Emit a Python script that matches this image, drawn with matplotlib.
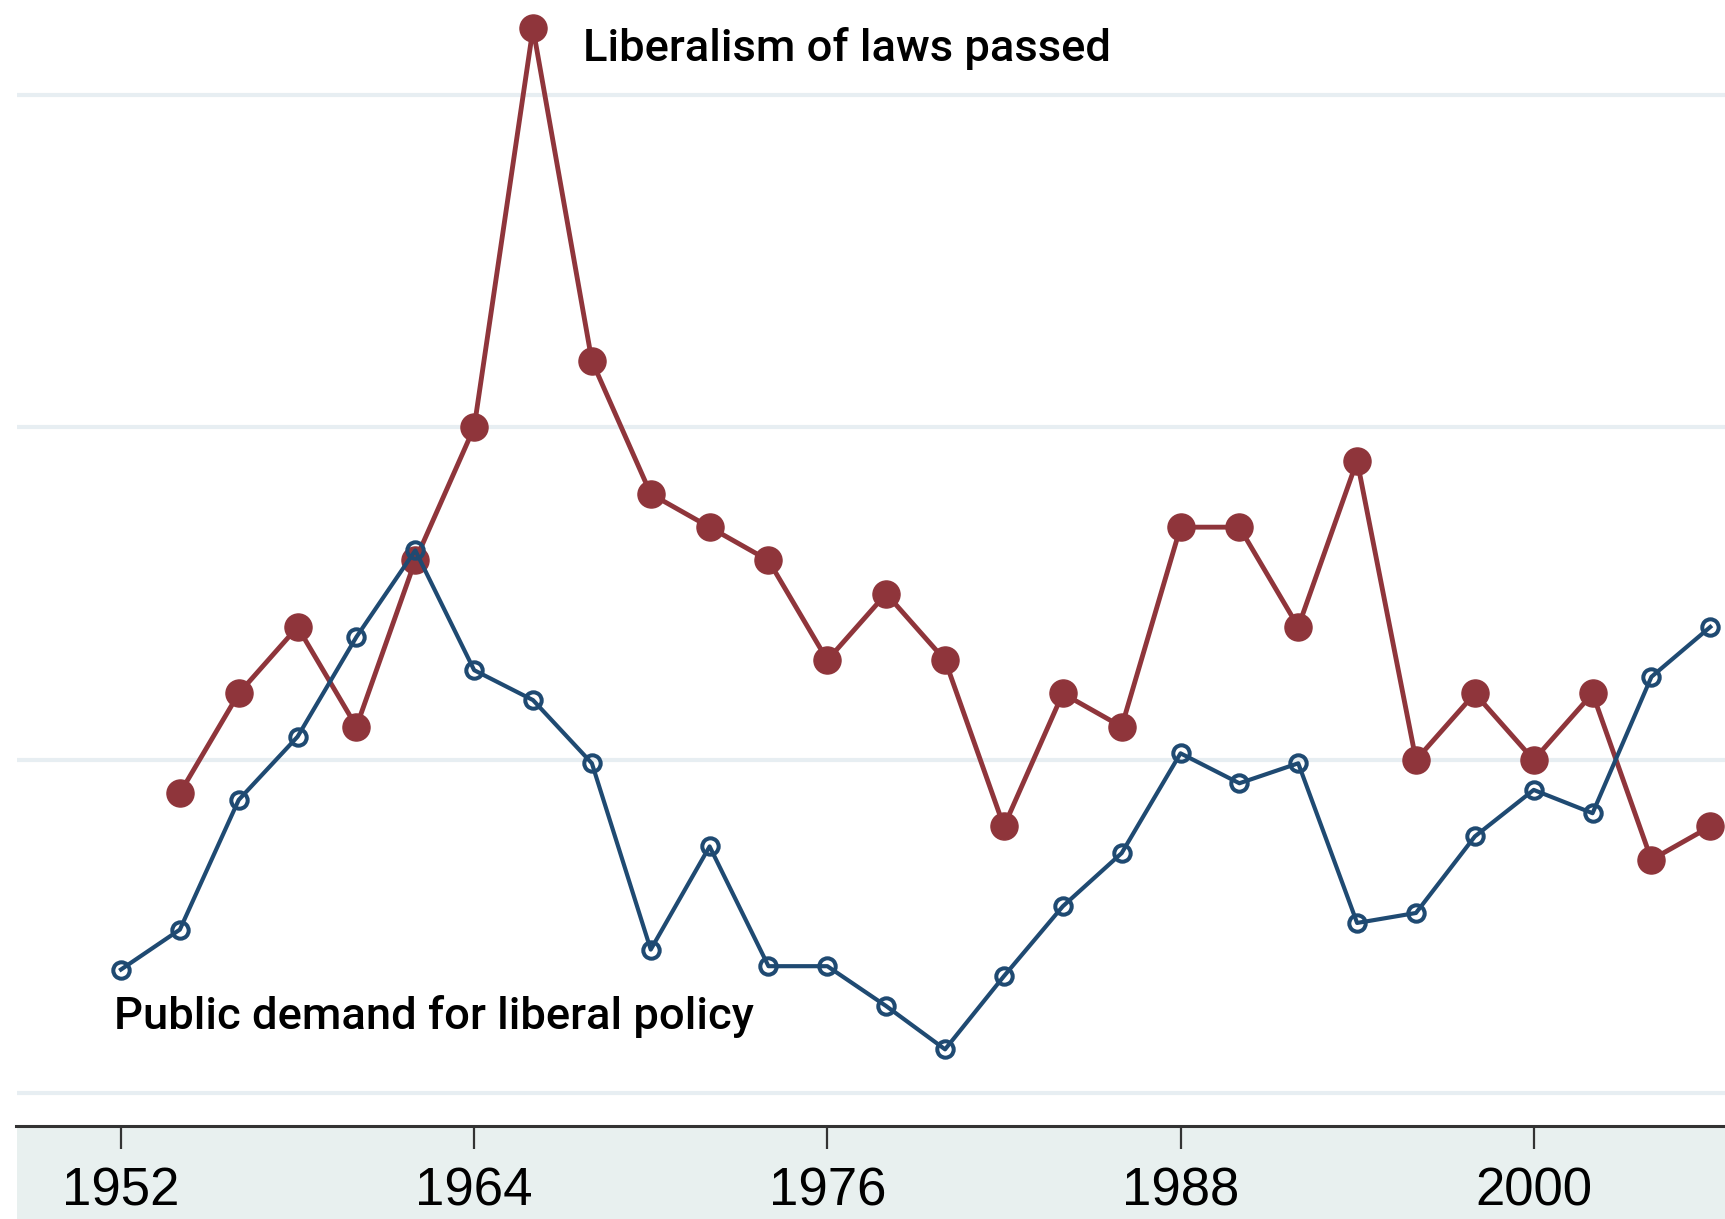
import matplotlib
matplotlib.use("Agg")
import matplotlib.pyplot as plt
from matplotlib.patches import Rectangle

# Data; units chosen so gridlines sit at 0, 1, 2, 3
years_demand = [1952, 1954, 1956, 1958, 1960, 1962, 1964, 1966, 1968, 1970,
                1972, 1974, 1976, 1978, 1980, 1982, 1984, 1986, 1988, 1990,
                1992, 1994, 1996, 1998, 2000, 2002, 2004, 2006]
public_demand = [0.37, 0.49, 0.88, 1.07, 1.37, 1.63, 1.27, 1.18, 0.99, 0.43,
                 0.74, 0.38, 0.38, 0.26, 0.13, 0.35, 0.56, 0.72, 1.02, 0.93,
                 0.99, 0.51, 0.54, 0.77, 0.91, 0.84, 1.25, 1.40]

years_laws = [1954, 1956, 1958, 1960, 1962, 1964, 1966, 1968, 1970, 1972,
              1974, 1976, 1978, 1980, 1982, 1984, 1986, 1988, 1990, 1992,
              1994, 1996, 1998, 2000, 2002, 2004, 2006]
laws_liberalism = [0.9, 1.2, 1.4, 1.1, 1.6, 2.0, 3.2, 2.2, 1.8, 1.7,
                   1.6, 1.3, 1.5, 1.3, 0.8, 1.2, 1.1, 1.7, 1.7, 1.4,
                   1.9, 1.0, 1.2, 1.0, 1.2, 0.7, 0.8]

xticks = [1952, 1964, 1976, 1988, 2000]
xtick_labels = ["1952", "1964", "1976", "1988", "2000"]
grid_levels = [0, 1, 2, 3]

label_laws = "Liberalism of laws passed"
label_demand = "Public demand for liberal policy"

RED = "#8f353b"
BLUE = "#1f4a72"

W, H = 1725, 1219
fig = plt.figure(figsize=(W / 100, H / 100), dpi=100)

ax_left = 16.5 / W
ax_bottom = 1 - 1125.5 / H

# bottom band behind tick labels
band = Rectangle((ax_left, 0), 1 - ax_left, ax_bottom,
                 transform=fig.transFigure, facecolor="#e8f0ef",
                 edgecolor="none", zorder=-5)
fig.patches.append(band)

ax = fig.add_axes([ax_left, ax_bottom, 1 - ax_left, 1 - ax_bottom])
ax.set_zorder(2)
ax.patch.set_alpha(0)

for g in grid_levels:
    ax.axhline(g, color="#e7eef2", lw=3.0, zorder=0)

ax.plot(years_demand, public_demand, color=BLUE, lw=3.0, marker="o",
        markersize=11.8, markerfacecolor="none", markeredgecolor=BLUE,
        markeredgewidth=2.9, zorder=3, clip_on=False)
ax.plot(years_laws, laws_liberalism, color=RED, lw=3.5, marker="o",
        markersize=19.5, markerfacecolor=RED, markeredgecolor=RED,
        zorder=2, clip_on=False)

ax.set_xlim(1948.45, 2006.5)
ax.set_ylim(-0.099, 3.285)

for s in ["top", "right", "left"]:
    ax.spines[s].set_visible(False)
ax.spines["bottom"].set_color("#333333")
ax.spines["bottom"].set_linewidth(2.2)

ax.set_yticks([])
ax.set_xticks(xticks)
ax.set_xticklabels(xtick_labels, fontsize=38, family="Liberation Sans")
ax.tick_params(axis="x", direction="out", length=16.5, width=1.6,
               color="#333333", pad=13)

txt_font = dict(family="Roboto", weight="medium", fontsize=32.7, color="black")
x_per_px = (2000 - 1952) / (1533.5 - 121)
ax.text(1952 + (583 - 121) * x_per_px, 3.14, label_laws,
        va="center", ha="left", **txt_font)
ax.text(1952 + (114 - 121) * x_per_px, (993 - 924) / 302.33, label_demand,
        va="center", ha="left", **txt_font)

fig.savefig("out.png", dpi=100)
